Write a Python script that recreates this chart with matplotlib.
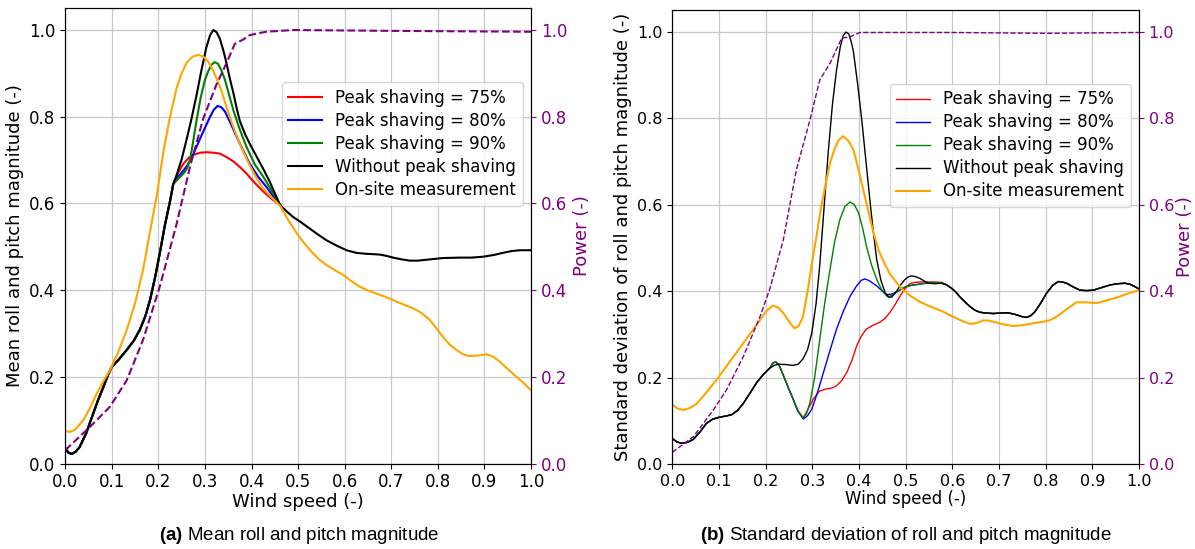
import matplotlib
matplotlib.use("Agg")
import matplotlib.pyplot as plt

plt.rcParams["mathtext.fontset"] = "custom"
plt.rcParams["mathtext.rm"] = "Liberation Sans"
plt.rcParams["mathtext.bf"] = "Liberation Sans:bold"

# ---------------- (a) mean roll and pitch magnitude ----------------
a_black_x = [0.0, 0.007, 0.014, 0.022, 0.031, 0.045, 0.06, 0.07, 0.082, 0.092, 0.1,
             0.115, 0.132, 0.147, 0.16, 0.172, 0.182, 0.193, 0.203, 0.214, 0.225, 0.232,
             0.239, 0.25, 0.26, 0.27, 0.282, 0.292, 0.303, 0.311, 0.318, 0.325, 0.332,
             0.339, 0.346, 0.353, 0.361, 0.368, 0.375, 0.386, 0.396, 0.41, 0.425, 0.44,
             0.461, 0.475, 0.489, 0.507, 0.525, 0.543, 0.561, 0.582, 0.604, 0.625, 0.643,
             0.66, 0.675, 0.69, 0.704, 0.722, 0.74, 0.757, 0.775, 0.811, 0.847, 0.872,
             0.897, 0.92, 0.94, 0.958, 0.976, 1.0]
a_black_y = [0.035, 0.025, 0.022, 0.027, 0.038, 0.07, 0.115, 0.145, 0.177, 0.205, 0.223,
             0.24, 0.262, 0.283, 0.308, 0.34, 0.377, 0.43, 0.485, 0.55, 0.605, 0.645,
             0.665, 0.702, 0.745, 0.79, 0.85, 0.905, 0.96, 0.988, 1.0, 0.995, 0.98,
             0.955, 0.925, 0.89, 0.855, 0.82, 0.79, 0.76, 0.738, 0.71, 0.68, 0.648,
             0.597, 0.582, 0.569, 0.556, 0.542, 0.528, 0.515, 0.503, 0.492, 0.486, 0.484,
             0.483, 0.482, 0.479, 0.475, 0.471, 0.468, 0.468, 0.47, 0.474, 0.475, 0.475,
             0.477, 0.481, 0.486, 0.49, 0.492, 0.492]
a_split = 22  # the peak-shaving runs follow the unshaved run up to this point

a_red_x = [0.243, 0.254, 0.265, 0.275, 0.29, 0.304, 0.318, 0.332, 0.346, 0.361, 0.375,
           0.389, 0.403, 0.418, 0.432, 0.446, 0.461]
a_red_y = [0.672, 0.692, 0.705, 0.712, 0.717, 0.718, 0.717, 0.715, 0.707, 0.697, 0.684,
           0.669, 0.652, 0.635, 0.621, 0.608, 0.597]

a_blue_x = [0.243, 0.254, 0.261, 0.272, 0.282, 0.296, 0.311, 0.319, 0.327, 0.335, 0.343,
            0.355, 0.368, 0.382, 0.396, 0.414, 0.432, 0.446, 0.461]
a_blue_y = [0.662, 0.676, 0.686, 0.706, 0.731, 0.765, 0.800, 0.816, 0.825, 0.822, 0.812,
            0.785, 0.754, 0.722, 0.692, 0.662, 0.638, 0.617, 0.597]

a_green_x = [0.243, 0.254, 0.261, 0.268, 0.275, 0.282, 0.291, 0.3, 0.307, 0.314, 0.321,
             0.328, 0.335, 0.343, 0.352, 0.361, 0.375, 0.389, 0.407, 0.425, 0.443, 0.461]
a_green_y = [0.657, 0.669, 0.680, 0.700, 0.745, 0.792, 0.845, 0.885, 0.905, 0.920, 0.926,
             0.922, 0.908, 0.885, 0.850, 0.815, 0.770, 0.731, 0.690, 0.662, 0.630, 0.597]

a_site_x = [0.0, 0.01, 0.02, 0.039, 0.053, 0.067, 0.082, 0.096, 0.114, 0.132, 0.15, 0.167,
            0.182, 0.196, 0.211, 0.225, 0.239, 0.25, 0.261, 0.273, 0.286, 0.297, 0.307,
            0.316, 0.325, 0.336, 0.346, 0.357, 0.368, 0.382, 0.396, 0.41, 0.425, 0.443,
            0.461, 0.478, 0.496, 0.514, 0.532, 0.546, 0.561, 0.579, 0.597, 0.614, 0.632,
            0.65, 0.668, 0.686, 0.704, 0.719, 0.733, 0.747, 0.761, 0.772, 0.783, 0.797,
            0.811, 0.825, 0.84, 0.854, 0.868, 0.886, 0.904, 0.918, 0.933, 0.951, 0.969,
            0.985, 1.0]
a_site_y = [0.075, 0.073, 0.077, 0.100, 0.128, 0.160, 0.190, 0.215, 0.258, 0.308, 0.370,
            0.446, 0.535, 0.615, 0.720, 0.800, 0.865, 0.900, 0.925, 0.938, 0.943, 0.938,
            0.927, 0.910, 0.888, 0.858, 0.823, 0.788, 0.756, 0.720, 0.688, 0.660, 0.635,
            0.614, 0.595, 0.563, 0.533, 0.507, 0.485, 0.470, 0.458, 0.446, 0.435, 0.421,
            0.408, 0.399, 0.392, 0.385, 0.377, 0.370, 0.364, 0.358, 0.350, 0.341, 0.331,
            0.312, 0.292, 0.275, 0.262, 0.252, 0.248, 0.249, 0.252, 0.247, 0.235, 0.217,
            0.200, 0.185, 0.169]

a_power_x = [0.0, 0.031, 0.06, 0.096, 0.132, 0.167, 0.203, 0.239, 0.268, 0.296, 0.325,
             0.346, 0.364, 0.382, 0.396, 0.411, 0.432, 0.489, 0.704, 1.0]
a_power_y = [0.031, 0.062, 0.092, 0.131, 0.192, 0.285, 0.408, 0.552, 0.685, 0.795, 0.875,
             0.923, 0.968, 0.978, 0.988, 0.992, 0.996, 1.0, 0.998, 0.996]

# ---------------- (b) standard deviation of roll and pitch magnitude ----------------
# stretches shared by all simulated runs at low and high wind speed
b_head_x = [0.0, 0.01, 0.02, 0.032, 0.045, 0.06, 0.073, 0.087, 0.1, 0.115, 0.127, 0.14,
            0.152, 0.166, 0.18, 0.195, 0.209]
b_head_y = [0.059, 0.051, 0.048, 0.050, 0.057, 0.075, 0.094, 0.104, 0.108, 0.111, 0.114,
            0.124, 0.140, 0.163, 0.187, 0.207, 0.222]
b_tail_x = [0.599, 0.608, 0.616, 0.627, 0.638, 0.648, 0.659, 0.673, 0.688, 0.702, 0.716,
            0.727, 0.738, 0.749, 0.759, 0.768, 0.777, 0.79, 0.802, 0.815, 0.827, 0.836,
            0.845, 0.86, 0.874, 0.888, 0.902, 0.92, 0.938, 0.954, 0.97, 0.98, 0.988, 1.0]
b_tail_y = [0.406, 0.397, 0.387, 0.375, 0.364, 0.356, 0.351, 0.349, 0.348, 0.349, 0.350,
            0.348, 0.345, 0.341, 0.339, 0.343, 0.352, 0.373, 0.395, 0.413, 0.422, 0.421,
            0.418, 0.409, 0.402, 0.401, 0.402, 0.408, 0.414, 0.417, 0.418, 0.416, 0.412,
            0.405]

b_black_x = [0.218, 0.227, 0.243, 0.259, 0.27, 0.28, 0.29, 0.299, 0.308, 0.316, 0.325,
             0.334, 0.343, 0.352, 0.36, 0.366, 0.372, 0.378, 0.383, 0.388, 0.397, 0.406,
             0.415, 0.424, 0.431, 0.438, 0.447, 0.456, 0.463, 0.47, 0.479, 0.488, 0.497,
             0.506, 0.513, 0.522, 0.531, 0.54, 0.549, 0.563, 0.577, 0.588]
b_black_y = [0.228, 0.231, 0.230, 0.228, 0.231, 0.243, 0.265, 0.304, 0.370, 0.460, 0.590,
             0.719, 0.830, 0.912, 0.965, 0.990, 0.999, 0.995, 0.978, 0.955, 0.880, 0.796,
             0.700, 0.604, 0.535, 0.473, 0.425, 0.396, 0.386, 0.386, 0.397, 0.412, 0.425,
             0.433, 0.435, 0.433, 0.429, 0.423, 0.418, 0.417, 0.418, 0.414]

b_green_x = [0.216, 0.222, 0.23, 0.238, 0.248, 0.259, 0.269, 0.279, 0.287, 0.295, 0.305,
             0.316, 0.327, 0.338, 0.348, 0.359, 0.37, 0.381, 0.39, 0.399, 0.408, 0.416,
             0.427, 0.438, 0.449, 0.459, 0.466, 0.474, 0.485, 0.495, 0.512, 0.53, 0.545,
             0.56, 0.577, 0.588]
b_green_y = [0.234, 0.236, 0.226, 0.205, 0.178, 0.150, 0.124, 0.107, 0.115, 0.142, 0.200,
             0.288, 0.375, 0.450, 0.515, 0.565, 0.596, 0.606, 0.600, 0.581, 0.545, 0.504,
             0.460, 0.427, 0.402, 0.389, 0.388, 0.393, 0.401, 0.408, 0.413, 0.416, 0.419,
             0.420, 0.420, 0.414]

b_blue_x = [0.216, 0.222, 0.23, 0.238, 0.248, 0.259, 0.269, 0.281, 0.29, 0.299, 0.311,
            0.324, 0.338, 0.352, 0.366, 0.381, 0.395, 0.405, 0.413, 0.422, 0.43, 0.438,
            0.449, 0.459, 0.47, 0.481, 0.492, 0.502, 0.515, 0.53, 0.545, 0.56, 0.577, 0.588]
b_blue_y = [0.234, 0.236, 0.226, 0.205, 0.178, 0.150, 0.122, 0.104, 0.112, 0.127, 0.165,
            0.212, 0.263, 0.312, 0.352, 0.388, 0.412, 0.425, 0.428, 0.424, 0.418, 0.412,
            0.401, 0.392, 0.393, 0.398, 0.405, 0.411, 0.414, 0.416, 0.418, 0.419, 0.419,
            0.414]

b_red_x = [0.216, 0.222, 0.23, 0.238, 0.248, 0.259, 0.269, 0.281, 0.291, 0.302, 0.315,
           0.327, 0.338, 0.345, 0.352, 0.363, 0.374, 0.385, 0.395, 0.405, 0.416, 0.43,
           0.445, 0.456, 0.466, 0.477, 0.488, 0.498, 0.509, 0.52, 0.53, 0.545, 0.56,
           0.577, 0.588]
b_red_y = [0.234, 0.236, 0.226, 0.205, 0.178, 0.150, 0.123, 0.107, 0.127, 0.150, 0.168,
           0.173, 0.175, 0.177, 0.181, 0.193, 0.212, 0.240, 0.273, 0.296, 0.312, 0.321,
           0.328, 0.337, 0.350, 0.368, 0.388, 0.405, 0.417, 0.420, 0.421, 0.421, 0.421,
           0.419, 0.414]

b_site_x = [0.0, 0.012, 0.024, 0.038, 0.052, 0.075, 0.1, 0.126, 0.152, 0.17, 0.188, 0.202,
            0.215, 0.227, 0.238, 0.25, 0.261, 0.27, 0.28, 0.29, 0.3, 0.309, 0.318, 0.328,
            0.338, 0.348, 0.357, 0.366, 0.377, 0.388, 0.398, 0.409, 0.42, 0.431, 0.442,
            0.452, 0.466, 0.481, 0.495, 0.509, 0.527, 0.545, 0.563, 0.581, 0.595, 0.609,
            0.623, 0.638, 0.652, 0.666, 0.677, 0.688, 0.71, 0.731, 0.749, 0.766, 0.781,
            0.795, 0.81, 0.824, 0.845, 0.866, 0.888, 0.909, 0.93, 0.952, 0.976, 1.0]
b_site_y = [0.137, 0.128, 0.125, 0.130, 0.139, 0.168, 0.202, 0.241, 0.279, 0.306, 0.333,
            0.354, 0.366, 0.362, 0.349, 0.330, 0.314, 0.318, 0.340, 0.400, 0.470, 0.527,
            0.588, 0.645, 0.696, 0.730, 0.750, 0.758, 0.748, 0.727, 0.685, 0.635, 0.585,
            0.535, 0.495, 0.470, 0.440, 0.419, 0.402, 0.390, 0.377, 0.368, 0.360, 0.352,
            0.344, 0.337, 0.330, 0.324, 0.326, 0.332, 0.332, 0.329, 0.323, 0.319, 0.321,
            0.324, 0.327, 0.329, 0.333, 0.341, 0.358, 0.374, 0.374, 0.372, 0.378, 0.385,
            0.394, 0.402]

b_power_x = [0.0, 0.045, 0.088, 0.116, 0.152, 0.188, 0.209, 0.238, 0.266, 0.295, 0.316,
             0.338, 0.363, 0.381, 0.402, 0.6, 0.8, 1.0]
b_power_y = [0.027, 0.063, 0.125, 0.171, 0.248, 0.341, 0.405, 0.519, 0.681, 0.796, 0.888,
             0.927, 0.985, 0.988, 0.998, 0.998, 0.996, 0.998]

labels = ["Peak shaving = 75%", "Peak shaving = 80%", "Peak shaving = 90%",
          "Without peak shaving", "On-site measurement"]
ticks = [0.0, 0.1, 0.2, 0.3, 0.4, 0.5, 0.6, 0.7, 0.8, 0.9, 1.0]
yticks = [0.0, 0.2, 0.4, 0.6, 0.8, 1.0]

fig = plt.figure(figsize=(11.95, 5.49), dpi=100)


def style_axes(ax, ax2, tick_fs, xlabel_fs, ylabel_fs, ylabel, power_pad):
    ax.set_xlim(0, 1)
    ax.set_ylim(0, 1.05)
    ax2.set_ylim(0, 1.05)
    ax.set_xticks(ticks)
    ax.set_yticks(yticks)
    ax2.set_yticks(yticks)
    ax.grid(True, color="#c8c8c8", linewidth=0.9)
    ax.tick_params(labelsize=tick_fs)
    ax2.tick_params(axis="y", colors="purple", labelsize=tick_fs)
    ax.set_xlabel("Wind speed (-)", fontsize=xlabel_fs, labelpad=1)
    ax.set_ylabel(ylabel, fontsize=ylabel_fs)
    ax2.set_ylabel("Power (-)", fontsize=ylabel_fs, color="purple", labelpad=power_pad)


# panel (a)
ax = fig.add_axes([0.0546, 0.1557, 0.3897, 0.8291])
hx, hy = a_black_x[:a_split], a_black_y[:a_split]
ax.plot(hx + a_red_x, hy + a_red_y, color="red", lw=1.5, label=labels[0])
ax.plot(hx + a_blue_x, hy + a_blue_y, color="blue", lw=1.5, label=labels[1])
ax.plot(hx + a_green_x, hy + a_green_y, color="green", lw=1.5, label=labels[2])
ax.plot(a_black_x, a_black_y, color="black", lw=1.5, label=labels[3])
ax.plot(a_site_x, a_site_y, color="orange", lw=1.5, label=labels[4])
ax2 = ax.twinx()
ax2.plot(a_power_x, a_power_y, color="purple", lw=1.5, ls="--")
style_axes(ax, ax2, 12, 13, 13, "Mean roll and pitch magnitude (-)", 4)
ax.legend(loc="upper right", bbox_to_anchor=(1.0, 0.856), fontsize=12,
          labelspacing=0.3, framealpha=0.8)

# panel (b)
bx = fig.add_axes([0.5626, 0.1548, 0.3905, 0.8270])
for mx, my, col, lab in [(b_red_x, b_red_y, "red", labels[0]),
                         (b_blue_x, b_blue_y, "blue", labels[1]),
                         (b_green_x, b_green_y, "green", labels[2]),
                         (b_black_x, b_black_y, "black", labels[3])]:
    bx.plot(b_head_x + mx + b_tail_x, b_head_y + my + b_tail_y, color=col, lw=1.0, label=lab)
bx.plot(b_site_x, b_site_y, color="orange", lw=1.5, label=labels[4])
bx2 = bx.twinx()
bx2.plot(b_power_x, b_power_y, color="purple", lw=1.0, ls="--")
style_axes(bx, bx2, 11.5, 12, 13, "Standard deviation of roll and pitch magnitude (-)", 1)
bx.legend(loc="upper right", bbox_to_anchor=(1.0, 0.856), fontsize=12,
          labelspacing=0.3, framealpha=0.8)

# captions
cap_font = dict(fontsize=13.5, ha="center", va="center")
fig.text(0.250, 0.024, r"$\mathbf{(a)}$ Mean roll and pitch magnitude",
         family="Liberation Sans", **cap_font)
fig.text(0.758, 0.024, r"$\mathbf{(b)}$ Standard deviation of roll and pitch magnitude",
         family="Liberation Sans", **cap_font)

fig.savefig("out.png", dpi=100)
